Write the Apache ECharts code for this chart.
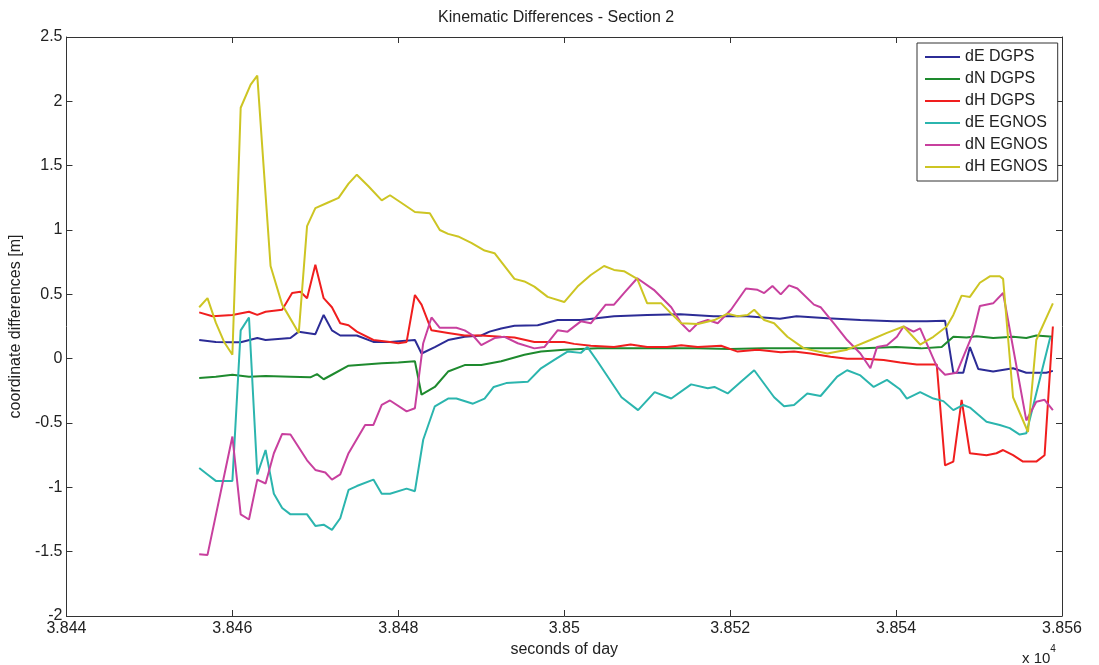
<!DOCTYPE html>
<html>
<head>
<meta charset="utf-8">
<script src="https://cdn.jsdelivr.net/npm/echarts@6/dist/echarts.min.js"></script>
<style>html,body{margin:0;padding:0;background:#fff}#c{width:1099px;height:665px}</style>
</head>
<body>
<div id="c"></div>
<script>
const seriesNames = ['dE DGPS','dN DGPS','dH DGPS','dE EGNOS','dN EGNOS','dH EGNOS'];
const xTicks = [38440, 38460, 38480, 38500, 38520, 38540, 38560];
const yTicks = [-2, -1.5, -1, -0.5, 0, 0.5, 1, 1.5, 2, 2.5];

const dE_DGPS = [[38456,0.145],[38458,0.13],[38460,0.127],[38461,0.127],[38463,0.16],[38464,0.145],[38467,0.16],[38468,0.21],[38470,0.19],[38471,0.34],[38472,0.22],[38473,0.18],[38475,0.18],[38477,0.13],[38479,0.13],[38482,0.145],[38482.8,0.04],[38484.4,0.09],[38486,0.145],[38488,0.17],[38490,0.18],[38491,0.21],[38492.4,0.235],[38494,0.255],[38496.8,0.26],[38499.2,0.30],[38502,0.30],[38506,0.33],[38510,0.34],[38514,0.345],[38518,0.33],[38522,0.33],[38526,0.31],[38528,0.33],[38531.7,0.315],[38535.7,0.30],[38539.7,0.29],[38543.7,0.29],[38545.9,0.295],[38546.9,-0.11],[38548.1,-0.11],[38548.9,0.09],[38549.9,-0.08],[38551.7,-0.10],[38554.1,-0.075],[38555.7,-0.11],[38558.1,-0.11],[38558.9,-0.095]];

const dN_DGPS = [[38456,-0.15],[38458,-0.14],[38460,-0.125],[38462,-0.14],[38464,-0.135],[38467,-0.14],[38469.4,-0.145],[38470.2,-0.12],[38471,-0.16],[38472,-0.125],[38474,-0.055],[38476,-0.045],[38478,-0.035],[38480,-0.03],[38482,-0.02],[38482.8,-0.28],[38484.4,-0.22],[38486,-0.10],[38488,-0.05],[38490,-0.05],[38492.4,-0.02],[38495.2,0.03],[38497.2,0.055],[38500,0.07],[38504,0.08],[38508,0.08],[38512,0.08],[38516,0.08],[38520,0.075],[38524,0.08],[38528,0.08],[38532,0.08],[38536,0.08],[38540,0.09],[38543,0.08],[38545.5,0.09],[38546.9,0.17],[38548.5,0.165],[38549.7,0.175],[38551.7,0.16],[38554.1,0.17],[38555.7,0.16],[38556.9,0.18],[38558.9,0.17]];

const dH_DGPS = [[38456,0.36],[38457.6,0.33],[38460,0.34],[38462,0.365],[38463,0.34],[38464,0.365],[38466,0.38],[38467.2,0.51],[38468.2,0.52],[38469,0.47],[38470,0.73],[38471,0.47],[38472,0.40],[38473,0.275],[38474,0.26],[38475,0.21],[38477,0.145],[38479,0.13],[38480,0.12],[38481,0.13],[38482,0.495],[38482.8,0.42],[38484,0.22],[38486,0.20],[38488,0.18],[38490,0.18],[38492.4,0.17],[38494,0.165],[38496.4,0.13],[38500,0.13],[38501.2,0.115],[38503.2,0.10],[38506,0.09],[38508,0.11],[38510,0.09],[38512.4,0.09],[38514.1,0.105],[38516.1,0.09],[38518.9,0.10],[38520.9,0.055],[38523.3,0.07],[38526.1,0.05],[38527.7,0.055],[38529.7,0.04],[38532.1,0.015],[38534.1,0.0],[38536.1,0.0],[38538.5,-0.01],[38540.5,-0.03],[38542.5,-0.045],[38544.9,-0.045],[38545.9,-0.83],[38546.9,-0.80],[38547.9,-0.32],[38548.9,-0.735],[38550.9,-0.75],[38552.1,-0.735],[38552.9,-0.71],[38554.1,-0.75],[38555.3,-0.80],[38556.9,-0.80],[38557.9,-0.75],[38558.9,0.25]];

const dE_EGNOS = [[38456,-0.85],[38457,-0.90],[38458,-0.95],[38460,-0.95],[38461,0.22],[38462,0.32],[38463,-0.90],[38464,-0.71],[38465,-1.05],[38466,-1.16],[38467,-1.21],[38469,-1.21],[38470,-1.30],[38471,-1.29],[38472,-1.33],[38473,-1.24],[38474,-1.02],[38475,-0.99],[38477,-0.94],[38478,-1.05],[38479,-1.05],[38481,-1.01],[38482,-1.03],[38483,-0.63],[38484.4,-0.37],[38486,-0.31],[38487,-0.31],[38489,-0.35],[38490.4,-0.31],[38491.5,-0.22],[38493,-0.19],[38495.6,-0.18],[38497.2,-0.075],[38498.8,-0.01],[38500.4,0.055],[38502,0.045],[38502.8,0.09],[38504,-0.02],[38506.9,-0.30],[38508.9,-0.40],[38510.9,-0.26],[38512.9,-0.31],[38515.3,-0.20],[38517.3,-0.23],[38518.1,-0.22],[38519.7,-0.27],[38521.3,-0.18],[38522.9,-0.09],[38525.3,-0.30],[38526.5,-0.37],[38527.7,-0.36],[38529.3,-0.27],[38530.9,-0.29],[38532.9,-0.14],[38534.1,-0.09],[38535.7,-0.13],[38537.3,-0.22],[38538.9,-0.165],[38540.5,-0.24],[38541.3,-0.31],[38542.9,-0.26],[38544.5,-0.31],[38545.7,-0.33],[38546.9,-0.40],[38548.1,-0.36],[38548.9,-0.38],[38550.9,-0.49],[38552.5,-0.515],[38553.7,-0.54],[38554.9,-0.59],[38555.7,-0.58],[38558.6,0.17]];

const dN_EGNOS = [[38456,-1.52],[38457,-1.525],[38460,-0.605],[38461,-1.21],[38462,-1.25],[38463,-0.94],[38464,-0.97],[38465,-0.735],[38466,-0.585],[38467,-0.59],[38469,-0.79],[38470,-0.865],[38471.2,-0.885],[38472,-0.94],[38473,-0.90],[38474,-0.735],[38476,-0.515],[38477,-0.515],[38478,-0.36],[38479,-0.325],[38481,-0.41],[38482,-0.385],[38483,0.12],[38484,0.32],[38485,0.24],[38487,0.24],[38488,0.22],[38489,0.18],[38490,0.105],[38491.6,0.16],[38492.8,0.17],[38494.4,0.12],[38496.4,0.08],[38497.6,0.09],[38499.2,0.22],[38500.4,0.21],[38502,0.29],[38503.2,0.275],[38505,0.42],[38506,0.42],[38507.2,0.51],[38508.8,0.625],[38510.8,0.535],[38512.9,0.40],[38514.1,0.275],[38515.1,0.21],[38516.1,0.275],[38517.3,0.30],[38518.5,0.275],[38520.1,0.38],[38521.9,0.545],[38523.3,0.535],[38524.1,0.51],[38525.1,0.565],[38526.1,0.50],[38527.1,0.57],[38528.1,0.545],[38530.1,0.42],[38530.9,0.40],[38532.5,0.275],[38534.1,0.145],[38535.7,0.04],[38536.9,-0.075],[38537.7,0.09],[38538.9,0.105],[38540.1,0.17],[38540.9,0.25],[38542.1,0.21],[38542.9,0.235],[38544.9,-0.06],[38545.9,-0.125],[38547.3,-0.11],[38549.3,0.20],[38550.1,0.41],[38551.7,0.43],[38552.9,0.51],[38555.7,-0.48],[38556.9,-0.335],[38557.9,-0.32],[38558.9,-0.40]];

const dH_EGNOS = [[38456,0.40],[38457,0.47],[38458,0.28],[38459,0.13],[38460,0.03],[38461,1.95],[38462.2,2.13],[38463,2.20],[38464.6,0.72],[38466,0.42],[38468,0.20],[38469,1.03],[38470,1.17],[38471.4,1.21],[38472.8,1.25],[38474,1.36],[38475,1.43],[38476.4,1.34],[38478,1.23],[38479,1.27],[38480.4,1.21],[38482,1.14],[38483.8,1.13],[38485,1.00],[38486,0.97],[38487.2,0.95],[38488.8,0.90],[38490.4,0.84],[38491.6,0.82],[38494,0.62],[38495.2,0.60],[38496.4,0.56],[38498,0.48],[38500,0.44],[38501.6,0.56],[38503.2,0.65],[38504.8,0.72],[38506,0.69],[38507.2,0.68],[38508.8,0.62],[38510,0.43],[38511.7,0.43],[38512.9,0.35],[38514.1,0.275],[38516.1,0.27],[38518.1,0.30],[38519.7,0.35],[38520.9,0.33],[38522.1,0.34],[38522.9,0.38],[38524.1,0.30],[38525.3,0.275],[38526.9,0.17],[38528.9,0.08],[38531.7,0.04],[38534.1,0.07],[38536.9,0.145],[38538.9,0.20],[38540.9,0.25],[38542.9,0.11],[38544.5,0.17],[38546.1,0.25],[38546.9,0.34],[38547.9,0.49],[38548.9,0.48],[38550.1,0.59],[38551.3,0.64],[38552.5,0.64],[38552.9,0.62],[38554.1,-0.30],[38555.9,-0.57],[38556.9,0.145],[38558.9,0.43]];

const allData = [dE_DGPS, dN_DGPS, dH_DGPS, dE_EGNOS, dN_EGNOS, dH_EGNOS];
const colors = ['#2c2c96', '#1e8a2e', '#f01e1e', '#2bb5ae', '#c8409e', '#cdc523'];

const FONT = 'Liberation Sans, Arial, sans-serif';
const FS = 16;
const axisCol = '#333';
const txtCol = '#222';

const chart = echarts.init(document.getElementById('c'), null, {renderer: 'canvas'});

const xCommon = {
  type: 'value', min: xTicks[0], max: xTicks[xTicks.length - 1], interval: 20,
  splitLine: {show: false},
  axisLine: {show: true, onZero: false, lineStyle: {color: axisCol, width: 1}},
  axisTick: {show: true, inside: true, length: 6, lineStyle: {color: axisCol}}
};
const yCommon = {
  type: 'value', min: yTicks[0], max: yTicks[yTicks.length - 1], interval: 0.5,
  splitLine: {show: false},
  axisLine: {show: true, onZero: false, lineStyle: {color: axisCol, width: 1}},
  axisTick: {show: true, inside: true, length: 6, lineStyle: {color: axisCol}}
};

chart.setOption({
  animation: false,
  backgroundColor: '#fff',
  color: colors,
  title: {
    text: 'Kinematic Differences - Section 2',
    left: 438, top: 10, padding: 0,
    textStyle: {fontFamily: FONT, fontSize: FS, fontWeight: 'normal', color: txtCol}
  },
  grid: {left: 64, right: 37, top: 37, bottom: 49, containLabel: false},
  legend: {
    orient: 'vertical', left: 917, top: 43,
    padding: [6, 10, 6, 8], itemGap: 6, itemWidth: 35, itemHeight: 2,
    icon: 'rect',
    backgroundColor: '#fff', borderColor: '#333', borderWidth: 1,
    textStyle: {fontFamily: FONT, fontSize: FS, color: txtCol},
    data: seriesNames
  },
  xAxis: [
    Object.assign({}, xCommon, {
      position: 'bottom',
      name: 'seconds of day', nameLocation: 'middle', nameGap: 26,
      nameTextStyle: {fontFamily: FONT, fontSize: FS, color: txtCol},
      axisLabel: {show: true, margin: 5, fontFamily: FONT, fontSize: FS, color: txtCol,
        formatter: v => String(parseFloat((v / 10000).toFixed(4)))}
    }),
    Object.assign({}, xCommon, {position: 'top', axisLabel: {show: false}})
  ],
  yAxis: [
    Object.assign({}, yCommon, {
      position: 'left',
      name: 'coordinate differences [m]', nameLocation: 'middle', nameGap: 35,
      nameTextStyle: {fontFamily: FONT, fontSize: FS, color: txtCol},
      axisLabel: {show: true, margin: 4, fontFamily: FONT, fontSize: FS, color: txtCol,
        formatter: v => String(v)}
    }),
    Object.assign({}, yCommon, {position: 'right', axisLabel: {show: false}})
  ],
  graphic: [{
    type: 'text', left: 1022, top: 644,
    style: {
      text: '{a|x 10}{b|4}',
      rich: {
        a: {fontFamily: FONT, fontSize: 15, fill: txtCol, verticalAlign: 'bottom', padding: [7, 0, 0, 0]},
        b: {fontFamily: FONT, fontSize: 10, fill: txtCol, verticalAlign: 'top'}
      }
    }
  }],
  series: allData.map((d, i) => ({
    name: seriesNames[i],
    type: 'line',
    data: d,
    xAxisIndex: 0, yAxisIndex: 0,
    symbol: 'none', showSymbol: false,
    lineStyle: {width: 2, color: colors[i]},
    itemStyle: {color: colors[i]},
    z: 2 + i
  }))
});
</script>
</body>
</html>
